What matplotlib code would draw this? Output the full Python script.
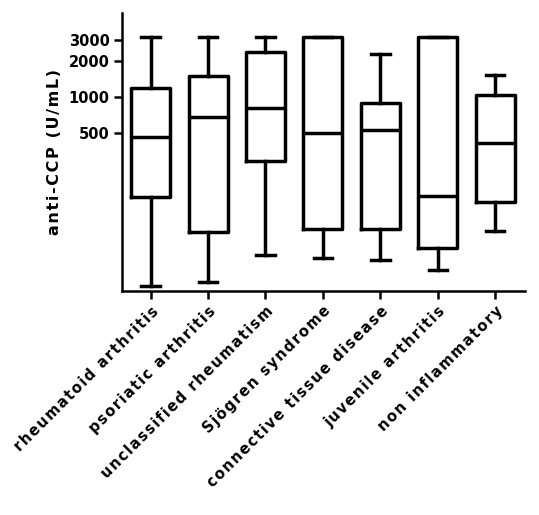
import matplotlib
matplotlib.use("Agg")
import matplotlib.pyplot as plt
from matplotlib.ticker import NullLocator

# values (log-scale y axis)
categories = [
    "rheumatoid arthritis",
    "psoriatic arthritis",
    "unclassified rheumatism",
    "Sjögren syndrome",
    "connective tissue disease",
    "juvenile arthritis",
    "non inflammatory",
]
whis_high = [3200, 3200, 3200, 3200, 2300, 3200, 1520]
q3 = [1200, 1500, 2400, 3200, 890, 3200, 1040]
median = [460, 680, 800, 500, 530, 147, 410]
q1 = [145, 73, 290, 78, 78, 54, 131]
whis_low = [26, 28, 47, 44, 43, 35, 75]

y_ticks = [500, 1000, 2000, 3000]
y_label = "anti-CCP (U/mL)"


def spaced(text, gap="\u200a"):
    # the reference uses wide letter spacing
    return gap.join(text)


plt.rcParams["font.family"] = "DejaVu Sans"
plt.rcParams["font.weight"] = "bold"

fig = plt.figure(figsize=(5.39, 5.15), dpi=100)
ax = fig.add_axes([0.2263, 0.435, 0.7477, 0.5398])

stats = [
    dict(label=c, whislo=lo, q1=a, med=m, q3=b, whishi=hi, fliers=[])
    for c, lo, a, m, b, hi in zip(categories, whis_low, q1, median, q3, whis_high)
]
lw = 2.5
ax.bxp(
    stats,
    positions=range(len(categories)),
    widths=0.68,
    showfliers=False,
    boxprops=dict(color="black", linewidth=lw),
    medianprops=dict(color="black", linewidth=lw),
    whiskerprops=dict(color="black", linewidth=lw),
    capprops=dict(color="black", linewidth=lw),
    capwidths=0.32,
)

ax.set_yscale("log")
ax.set_ylim(23.4, 5080)
ax.set_xlim(-0.5, 6.52)
ax.set_yticks(y_ticks)
ax.set_yticklabels([str(t) for t in y_ticks])
ax.yaxis.set_minor_locator(NullLocator())

ax.set_xticks(range(len(categories)))
ax.set_xticklabels([spaced(c) for c in categories], rotation=45, ha="right",
                   rotation_mode="anchor", fontsize=10.5, fontweight="bold")
for lab in ax.get_yticklabels():
    lab.set_fontsize(10.5)
    lab.set_fontweight("bold")

ax.set_ylabel(spaced(y_label), fontsize=11.5, fontweight="bold", labelpad=5)

for side in ("top", "right"):
    ax.spines[side].set_visible(False)
for side in ("left", "bottom"):
    ax.spines[side].set_linewidth(1.8)
ax.tick_params(axis="both", which="major", width=1.8, length=6, color="black", pad=3)

fig.savefig("out.png", dpi=100)
